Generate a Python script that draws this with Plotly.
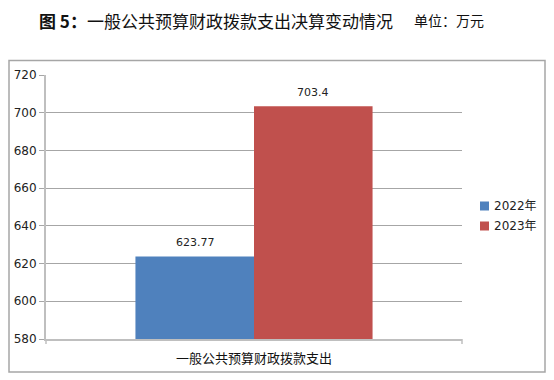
import plotly.graph_objects as go

categories = ["一般公共预算财政拨款支出"]
series_names = ["2022年", "2023年"]
values_2022 = [623.77]
values_2023 = [703.4]
label_2022 = ["623.77"]
label_2023 = ["703.4"]
colors = ["#4F81BD", "#C0504D"]
y_ticks = [580, 600, 620, 640, 660, 680, 700, 720]

# page has 8px body margin: work in reference-screen coordinates, shifted by OFF
OFF = 8
W, H = 554 - OFF, 380 - OFF
L, R, T, B = 46 - OFF, 554 - 462, 75 - OFF, 380 - 339
pw, ph = W - L - R, H - T - B


def px(x):
    return (x - OFF - L) / pw


def py(y):
    return (H - B - (y - OFF)) / ph


fig = go.Figure()
series = [
    (series_names[0], values_2022, label_2022, colors[0], -1),
    (series_names[1], values_2023, label_2023, colors[1], 1),
]
for name, vals, labels, col, side in series:
    fig.add_trace(go.Bar(
        x=categories, y=vals, name=name, marker_color=col,
        marker_line_width=0, showlegend=False,
    ))
    for c, v, t in zip(categories, vals, labels):
        fig.add_annotation(x=c, y=v, xref="x", yref="y", text=t, showarrow=False,
                           xshift=side * 59, yshift=14, yanchor="middle",
                           font=dict(family="DejaVu Sans, sans-serif", size=11, color="#222222"))

fig.update_layout(
    width=W, height=H,
    margin=dict(l=L, r=R, t=T, b=B, autoexpand=False),
    paper_bgcolor="white", plot_bgcolor="white",
    barmode="group", bargap=0.43, bargroupgap=0,
    showlegend=False,
    yaxis=dict(range=[580, 720], tickvals=y_ticks, showgrid=True, gridcolor="#A6A6A6",
               gridwidth=1, showline=True, linecolor="#BFBFBF", linewidth=2,
               ticks="outside", ticklen=5, tickcolor="#A6A6A6",
               tickfont=dict(family="DejaVu Sans, sans-serif", size=12, color="#222222"),
               zeroline=False),
    xaxis=dict(showline=True, linecolor="#BFBFBF", linewidth=2, ticks="",
               ticklabelstandoff=6,
               tickfont=dict(family="Noto Sans CJK SC, sans-serif", size=13, color="#111111")),
    font=dict(family="Noto Sans CJK SC, sans-serif"),
)

# manual legend
for i, (name, col) in enumerate(zip(series_names, colors)):
    yc = 206 + 20 * i
    fig.add_shape(type="rect", xref="paper", yref="paper",
                  x0=px(480), x1=px(489), y0=py(yc + 4.5), y1=py(yc - 4.5),
                  fillcolor=col, line=dict(width=0))
    fig.add_annotation(xref="paper", yref="paper", x=px(492), y=py(yc),
                       xanchor="left", yanchor="middle", showarrow=False, text=name,
                       font=dict(family="DejaVu Sans, Noto Sans CJK SC, sans-serif", size=12, color="#222222"))

# outer border of chart area
fig.add_shape(type="rect", xref="paper", yref="paper",
              x0=px(9), x1=px(545), y0=py(372), y1=py(60.5),
              line=dict(color="#A6A6A6", width=1.5), layer="below")
# end ticks of category axis
for xx in [46, 462]:
    fig.add_shape(type="line", xref="paper", yref="paper",
                  x0=px(xx), x1=px(xx), y0=py(339), y1=py(344),
                  line=dict(color="#BFBFBF", width=1.5))

fig.add_annotation(xref="paper", yref="paper", x=px(37), y=py(20),
                   xanchor="left", yanchor="middle", showarrow=False,
                   text="<b>图 5：</b>一般公共预算财政拨款支出决算变动情况",
                   font=dict(family="Noto Sans CJK SC, sans-serif", size=17, color="#111111"))
fig.add_annotation(xref="paper", yref="paper", x=px(412), y=py(20),
                   xanchor="left", yanchor="middle", showarrow=False,
                   text="单位：万元",
                   font=dict(family="Noto Sans CJK SC, sans-serif", size=14, color="#111111"))

fig.write_html("out.html")
